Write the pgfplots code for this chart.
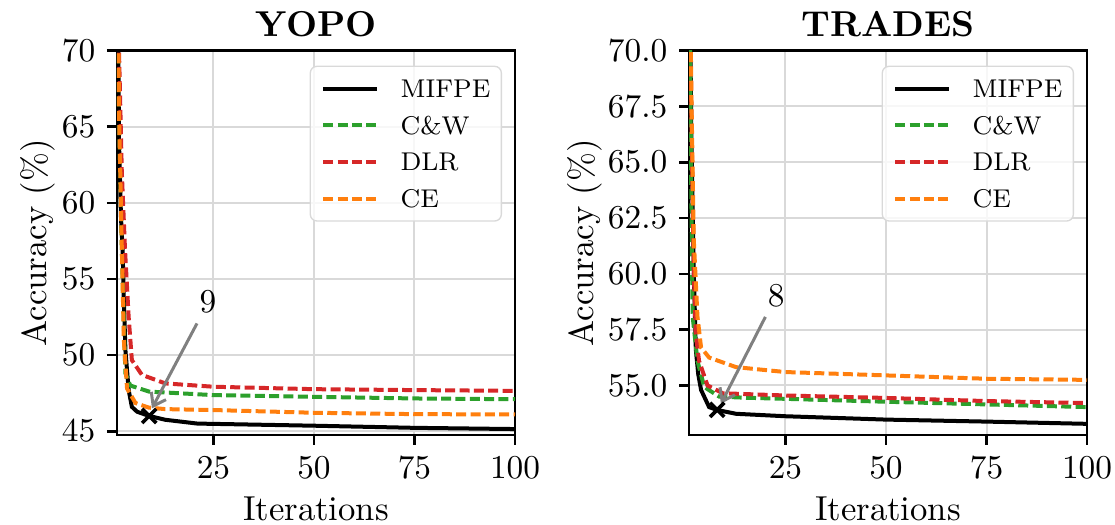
\documentclass[border=0pt]{standalone}
\usepackage{pgfplots}
\pgfplotsset{compat=1.18}
\usetikzlibrary{calc,arrows.meta}
\definecolor{tabgreen}{HTML}{2CA02C}
\definecolor{tabred}{HTML}{D62728}
\definecolor{taborange}{HTML}{FF7F0E}
\pgfplotsset{
  myax/.style={
    scale only axis, width=119.4pt, height=115.3pt,
    xmin=1, xmax=100, xtick={25,50,75,100},
    axis line style={line width=0.8pt},
    tick style={line width=0.8pt, black},
    tick align=outside, xtick pos=bottom, ytick pos=left,
    major tick length=3pt,
    grid=major, grid style={line width=0.6pt, gray!30},
    ticklabel style={font=\fontsize{10}{12}\selectfont},
    label style={font=\fontsize{10.4}{12}\selectfont},
    xlabel style={yshift=1.2pt},
    title style={font=\fontsize{10.8}{12}\selectfont\bfseries, yshift=-5.3pt},
    xlabel={Iterations}, ylabel={Accuracy (\%)},
    clip=true,
    legend cell align=left,
    legend style={at={(1,1)}, anchor=north east, xshift=-3.9pt, yshift=-4.5pt,
      draw=gray!30, rounded corners=2pt, fill=white, fill opacity=0.8, text opacity=1,
      font=\fontsize{7.7}{9.2}\selectfont, row sep=5.6pt, column sep=6.6pt,
      inner xsep=3.3pt, inner ysep=4pt,
      nodes={inner sep=0pt, text height=5.4pt, text depth=0pt}},
    legend image code/.code={\draw[#1] (0pt,0pt) -- (16pt,0pt);},
  },
  mifpe/.style={black, line width=1.2pt, solid},
  cw/.style={tabgreen, line width=1.2pt, dash pattern=on 3pt off 1.3pt},
  dlr/.style={tabred, line width=1.2pt, dash pattern=on 3pt off 1.3pt},
  ce/.style={taborange, line width=1.2pt, dash pattern=on 3pt off 1.3pt},
}
\begin{document}
\begin{tikzpicture}
\begin{axis}[myax, name=L, title={YOPO}, ymin=44.75, ymax=70, ytick={45,50,...,70}, ylabel style={yshift=-4.8pt}]
\addplot[mifpe] coordinates {(1,82) (1.5,64) (2.0,59) (2.4,56.9) (2.7,53.6) (3.1,50.3) (3.9,47.7) (4.7,46.6) (6,46.28) (9,46.0) (13,45.75) (21,45.5) (50,45.36) (75,45.22) (100,45.14)};
\addlegendentry{MIFPE}
\addplot[cw] coordinates {(1,83) (1.5,66) (2.2,57) (2.8,51) (3.1,48.8) (4.3,48.0) (9,47.6) (25,47.37) (50,47.26) (75,47.15) (100,47.1)};
\addlegendentry{C\&W}
\addplot[dlr] coordinates {(1,84) (1.5,70) (2.2,62) (3.0,56.9) (3.9,52.5) (4.7,49.67) (7.2,48.7) (13,48.14) (25,47.92) (50,47.76) (75,47.7) (100,47.65)};
\addlegendentry{DLR}
\addplot[ce] coordinates {(1,83) (1.5,66) (2.2,57) (2.7,51) (3.5,47.8) (5.6,46.85) (8.9,46.55) (13,46.45) (25,46.39) (50,46.21) (75,46.12) (100,46.1)};
\addlegendentry{CE}
\addplot[only marks, mark=x, mark size=3pt, line width=1.1pt, black, forget plot] coordinates {(9,46.0)};
\draw[gray, line width=0.9pt, -{Straight Barb[length=3.5pt,width=5pt]}] (axis cs:20.9,52.08) -- (axis cs:9.7,46.5);
\node[font=\fontsize{10}{12}\selectfont] at (axis cs:23.6,53.5) {9};
\end{axis}
\begin{axis}[myax, xshift=171.6pt, title={TRADES}, ymin=52.78, ymax=70, ytick={55,57.5,...,70}, ylabel style={yshift=-5pt},
  yticklabel style={/pgf/number format/.cd, fixed, fixed zerofill, precision=1}]
\addplot[mifpe] coordinates {(1,76) (1.6,66) (2.2,60) (2.7,56.6) (3.3,55.5) (4.0,54.8) (6.0,54.03) (8,53.9) (12.7,53.73) (25,53.62) (50,53.47) (75,53.38) (100,53.28)};
\addlegendentry{MIFPE}
\addplot[cw] coordinates {(1,76) (1.5,65) (1.9,58.1) (3.1,56.1) (4.8,54.93) (8.5,54.5) (15,54.45) (25,54.4) (50,54.27) (75,54.15) (100,54.03)};
\addlegendentry{C\&W}
\addplot[dlr] coordinates {(1,77) (1.6,67) (2.2,60) (2.7,57.3) (3.5,56.1) (5.6,55.0) (9.4,54.65) (25,54.55) (50,54.44) (75,54.3) (100,54.21)};
\addlegendentry{DLR}
\addplot[ce] coordinates {(1,77) (1.6,68) (2.2,61.5) (3.1,58.1) (4.0,56.7) (6.0,56.25) (12.7,55.82) (25,55.6) (50,55.45) (75,55.3) (100,55.25)};
\addlegendentry{CE}
\addplot[only marks, mark=x, mark size=3pt, line width=1.1pt, black, forget plot] coordinates {(8,53.91)};
\draw[gray, line width=0.9pt, -{Straight Barb[length=3.5pt,width=5pt]}] (axis cs:20.0,58.07) -- (axis cs:8.95,54.18);
\node[font=\fontsize{10}{12}\selectfont] at (axis cs:22.7,59.04) {8};
\end{axis}
\pgfresetboundingbox
\path[use as bounding box] ($(L.south west)+(-35.1pt,-27pt)$) rectangle ++(334.5pt,157.5pt);
\end{tikzpicture}
\end{document}
